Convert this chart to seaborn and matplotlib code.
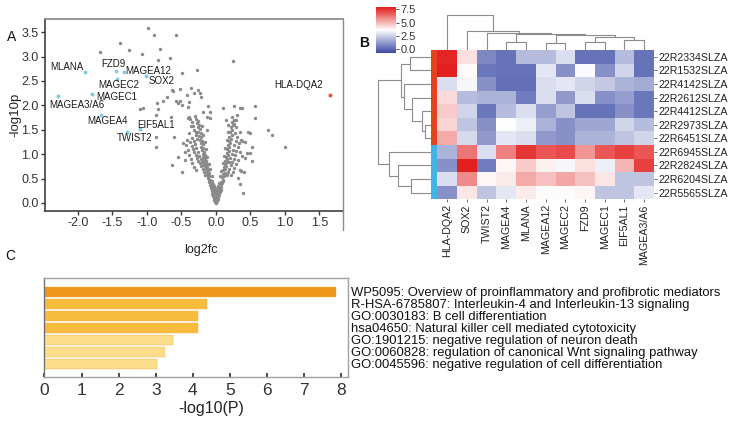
import numpy as np
import pandas as pd
import matplotlib
matplotlib.use("Agg")
import matplotlib.pyplot as plt
import seaborn as sns
from matplotlib.colors import LinearSegmentedColormap, ListedColormap
from matplotlib.lines import Line2D
from matplotlib.ticker import FormatStrFormatter, MultipleLocator

W, H = 729, 421

# ---------------- A: volcano data (log2fc, -log10p)
other_genes = [
    (-0.98, 3.58), (-0.89, 3.44), (-0.58, 3.44), (-1.39, 3.27), (-0.81, 3.15), (-1.26, 3.13),
    (-1.07, 3.05), (-1.68, 3.09), (-0.66, 2.98), (-0.83, 2.94), (0.25, 2.90), (-0.49, 2.67),
    (-0.27, 2.73), (-0.64, 2.32), (-0.52, 2.34), (-0.71, 2.18), (-0.76, 2.08), (-0.85, 2.04),
    (-0.42, 2.21), (-0.32, 2.26), (-0.25, 2.32), (-0.23, 2.25), (-0.22, 2.17), (-0.58, 2.10),
    (-0.55, 2.04), (-0.49, 2.01), (-0.40, 1.96), (-0.18, 1.87), (-0.11, 1.99), (-0.08, 1.87),
    (0.10, 1.94), (0.26, 1.99), (0.57, 1.99), (0.38, 1.94), (-0.83, 1.92), (-1.10, 1.92),
    (-0.65, 1.76), (-0.40, 1.74), (-0.13, 1.77), (-0.08, 1.75), (0.35, 1.94), (0.57, 1.75),
    (0.76, 1.50), (0.81, 1.39), (1.01, 1.14), (0.49, 1.44), (0.35, 1.05), (0.35, 0.68),
    (0.35, 0.38), (-0.86, 1.80), (-0.86, 1.36), (-0.86, 1.14), (-0.61, 1.36), (-0.64, 0.77),
    (-0.49, 0.64), (-0.55, 0.94), (-0.38, 1.76), (-0.36, 1.58), (-0.28, 1.46), (-1.06, 1.94),
    (-0.36, 2.35), (-0.39, 2.06), (-0.62, 2.30), (-0.52, 2.10),
    # dense core
    (0.00, 0.00), (0.01, 0.02), (-0.01, 0.03), (0.00, 0.05), (0.02, 0.05), (-0.02, 0.06),
    (0.01, 0.08), (-0.01, 0.09), (0.03, 0.09), (-0.03, 0.10), (0.02, 0.12), (-0.02, 0.13),
    (0.04, 0.13), (-0.04, 0.14), (0.00, 0.11), (0.03, 0.16), (-0.03, 0.17), (0.05, 0.17),
    (-0.05, 0.19), (0.01, 0.15), (-0.01, 0.18), (0.04, 0.20), (-0.04, 0.22), (0.06, 0.22),
    (-0.06, 0.24), (0.02, 0.21), (-0.02, 0.25), (0.05, 0.26), (-0.05, 0.28), (0.07, 0.27),
    (-0.07, 0.30), (0.03, 0.27), (-0.03, 0.31), (0.06, 0.31), (-0.06, 0.34), (0.08, 0.33),
    (-0.08, 0.36), (0.04, 0.34), (-0.04, 0.38), (0.07, 0.38), (-0.07, 0.41), (0.09, 0.40),
    (-0.09, 0.43), (0.05, 0.41), (-0.05, 0.45), (0.10, 0.45), (-0.10, 0.48), (0.08, 0.44),
    (-0.08, 0.47), (0.01, 0.24), (-0.01, 0.28), (0.00, 0.20), (0.02, 0.30), (-0.02, 0.35),
    # left arm
    (-0.11, 0.52), (-0.09, 0.55), (-0.12, 0.58), (-0.10, 0.62), (-0.13, 0.63), (-0.11, 0.68),
    (-0.14, 0.70), (-0.12, 0.74), (-0.15, 0.76), (-0.13, 0.80), (-0.16, 0.82), (-0.14, 0.86),
    (-0.17, 0.88), (-0.15, 0.92), (-0.18, 0.95), (-0.16, 0.99), (-0.19, 1.01), (-0.17, 1.05),
    (-0.20, 1.08), (-0.18, 1.12), (-0.21, 1.15), (-0.19, 1.20), (-0.22, 1.22), (-0.20, 1.27),
    (-0.23, 1.30), (-0.21, 1.35), (-0.24, 1.38), (-0.22, 1.43), (-0.25, 1.46), (-0.23, 1.52),
    (-0.26, 1.55), (-0.24, 1.60), (-0.27, 1.63), (-0.25, 1.68), (-0.28, 1.72), (-0.30, 1.78),
    (-0.15, 0.58), (-0.17, 0.64), (-0.19, 0.69), (-0.21, 0.75), (-0.23, 0.81), (-0.25, 0.86),
    (-0.27, 0.92), (-0.29, 0.98), (-0.31, 1.04), (-0.33, 1.10), (-0.35, 1.17), (-0.37, 1.24),
    (-0.30, 1.20), (-0.28, 1.12), (-0.26, 1.04), (-0.24, 0.97), (-0.22, 0.90), (-0.20, 0.84),
    (-0.18, 0.77), (-0.32, 1.28), (-0.34, 1.34), (-0.29, 1.40), (-0.31, 1.49), (-0.33, 1.58),
    (-0.35, 1.66), (-0.37, 1.72), (-0.27, 1.31), (-0.41, 1.30), (-0.43, 1.18), (-0.40, 1.08),
    (-0.38, 0.98), (-0.36, 0.90), (-0.34, 0.82), (-0.31, 0.74), (-0.28, 0.68), (-0.45, 1.05),
    (-0.44, 0.88), (-0.47, 1.22), (-0.39, 1.44), (-0.14, 1.10), (-0.12, 0.95), (-0.10, 0.80),
    (-0.16, 1.25), (-0.18, 1.40), (-0.20, 1.58), (-0.13, 1.50), (-0.08, 0.70), (-0.06, 0.55),
    # right arm
    (0.11, 0.48), (0.09, 0.53), (0.12, 0.56), (0.10, 0.60), (0.13, 0.62), (0.11, 0.67),
    (0.14, 0.69), (0.12, 0.73), (0.15, 0.76), (0.13, 0.80), (0.16, 0.83), (0.14, 0.87),
    (0.17, 0.90), (0.15, 0.95), (0.18, 0.98), (0.16, 1.03), (0.19, 1.06), (0.17, 1.11),
    (0.20, 1.14), (0.18, 1.19), (0.21, 1.22), (0.19, 1.28), (0.22, 1.31), (0.20, 1.36),
    (0.23, 1.40), (0.21, 1.46), (0.24, 1.50), (0.22, 1.56), (0.25, 1.60), (0.23, 1.66),
    (0.26, 1.70), (0.24, 1.76), (0.16, 0.57), (0.18, 0.63), (0.20, 0.70), (0.22, 0.77),
    (0.24, 0.84), (0.26, 0.91), (0.28, 0.98), (0.30, 1.06), (0.32, 1.14), (0.34, 1.22),
    (0.36, 1.30), (0.27, 1.18), (0.25, 1.08), (0.23, 1.00), (0.21, 0.92), (0.19, 0.85),
    (0.29, 1.27), (0.31, 1.36), (0.28, 1.44), (0.30, 1.55), (0.27, 1.62), (0.29, 1.70),
    (0.31, 1.80), (0.33, 0.88), (0.30, 0.80), (0.27, 0.72), (0.25, 0.64), (0.22, 0.58),
    (0.38, 0.96), (0.41, 0.64), (0.42, 0.92), (0.45, 1.02), (0.50, 1.03), (0.53, 0.87),
    (0.42, 1.24), (0.38, 1.28), (0.53, 1.14), (0.47, 1.46), (0.35, 1.46), (0.39, 0.21),
    (0.33, 0.52), (0.36, 0.66), (0.14, 1.12), (0.12, 0.96), (0.10, 0.82), (0.16, 1.30),
    (0.18, 1.45), (0.08, 0.66), (0.06, 0.55), (0.18, 1.60), (0.15, 1.70),
]

marked_genes = ["MLANA", "FZD9", "MAGEA12", "SOX2", "MAGEC2", "MAGEC1",
                "MAGEA3/A6", "MAGEA4", "EIF5AL1", "TWIST2", "HLA-DQA2"]
marked_fc = [-1.89, -1.45, -1.33, -1.01, -1.43, -1.80, -2.28, -1.66, -1.10, -1.29, 1.65]
marked_logp = [2.68, 2.70, 2.69, 2.60, 2.55, 2.24, 2.19, 1.80, 1.52, 1.46, 2.22]

# label placement (offset from the point, in data units)
label_offset = {
    "MLANA": (-0.27, 0.11), "FZD9": (-0.04, 0.15), "MAGEA12": (0.35, 0.02),
    "SOX2": (0.22, -0.10), "MAGEC2": (0.02, -0.13), "MAGEC1": (0.37, -0.07),
    "MAGEA3/A6": (0.27, -0.19), "MAGEA4": (0.09, -0.11), "EIF5AL1": (0.24, 0.08),
    "TWIST2": (0.12, -0.12), "HLA-DQA2": (-0.45, 0.20),
}

# ---------------- B: heatmap
hm_genes = ["HLA-DQA2", "SOX2", "TWIST2", "MAGEA4", "MLANA", "MAGEA12",
            "MAGEC2", "FZD9", "MAGEC1", "EIF5AL1", "MAGEA3/A6"]
hm_samples = ["22R2334SLZA", "22R1532SLZA", "22R4142SLZA", "22R2612SLZA",
              "22R4412SLZA", "22R2973SLZA", "22R6451SLZA", "22R6945SLZA",
              "22R2824SLZA", "22R6204SLZA", "22R5565SLZA"]
hm_values = [
    [7.7, 4.2, 0.8, 0.3, 2.0, 2.0, 2.8, 0.3, 0.3, 2.0, 0.3],
    [7.8, 3.7, 0.4, 0.3, 0.3, 3.0, 1.0, 3.5, 1.0, 2.6, 0.3],
    [2.8, 3.4, 1.0, 0.2, 0.2, 2.8, 3.0, 2.6, 2.3, 1.8, 1.6],
    [4.3, 2.0, 1.8, 1.8, 0.5, 2.8, 1.2, 2.8, 1.0, 1.3, 0.4],
    [4.6, 2.6, 0.4, 2.0, 2.8, 1.3, 2.2, 0.3, 0.3, 1.0, 0.4],
    [4.4, 2.2, 1.0, 3.6, 3.2, 1.8, 1.0, 1.5, 1.5, 2.6, 2.0],
    [5.2, 2.7, 1.2, 3.0, 2.8, 1.2, 1.0, 1.8, 1.8, 2.2, 2.6],
    [1.8, 6.2, 2.8, 6.0, 7.4, 6.8, 7.0, 5.6, 6.8, 7.2, 6.8],
    [1.0, 7.8, 0.5, 3.8, 4.6, 3.9, 3.4, 4.2, 3.2, 5.0, 7.2],
    [2.8, 5.8, 3.8, 4.0, 5.2, 4.8, 5.3, 4.8, 4.1, 2.2, 2.2],
    [1.0, 4.1, 2.2, 3.0, 4.0, 3.7, 3.7, 3.8, 2.2, 2.2, 3.0],
]
sample_group = [0, 0, 0, 0, 0, 0, 0, 1, 1, 1, 1]

# dendrogram merges: (left node, right node, height); new nodes numbered after leaves
row_merges = [(5, 6, 6), (4, 11, 9), (3, 12, 19), (2, 13, 27), (0, 1, 21),
              (15, 14, 30), (9, 10, 20), (8, 17, 33), (7, 18, 42), (16, 19, 53)]
col_merges = [(3, 4, 8), (5, 6, 7), (7, 8, 8.3), (9, 10, 10), (13, 14, 13),
              (12, 15, 15), (11, 16, 16), (2, 17, 17), (1, 18, 19), (0, 19, 35)]

# ---------------- C: enrichment bars
terms = ["WP5095: Overview of proinflammatory and profibrotic mediators",
         "R-HSA-6785807: Interleukin-4 and Interleukin-13 signaling",
         "GO:0030183: B cell differentiation",
         "hsa04650: Natural killer cell mediated cytotoxicity",
         "GO:1901215: negative regulation of neuron death",
         "GO:0060828: regulation of canonical Wnt signaling pathway",
         "GO:0045596: negative regulation of cell differentiation"]
term_logp = [7.85, 4.37, 4.14, 4.15, 3.46, 3.26, 3.04]
term_tier = [0, 1, 1, 1, 2, 2, 2]
tier_colors = ["#F0961C", "#F8BC3C", "#FCDD8A"]

sns.set_theme(style="white")
plt.rcParams["font.family"] = ["Liberation Sans", "DejaVu Sans"]

fig = plt.figure(figsize=(W / 100, H / 100), dpi=100)


def box(l, t, r, b):
    return [l / W, 1 - b / H, (r - l) / W, (b - t) / H]


# ---------------- panel A
ax = fig.add_axes(box(45, 19, 343, 211))
bg = pd.DataFrame(other_genes, columns=["log2fc", "logp"])
sns.scatterplot(data=bg, x="log2fc", y="logp", color="#8a8a8a", s=6,
                linewidth=0, ax=ax)
mk = pd.DataFrame({"gene": marked_genes, "log2fc": marked_fc, "logp": marked_logp})
down = mk[mk.log2fc < 0]
up = mk[mk.log2fc > 0]
sns.scatterplot(data=down, x="log2fc", y="logp", color="#7ECBE6", s=8, linewidth=0, ax=ax)
sns.scatterplot(data=up, x="log2fc", y="logp", color="#E4532B", s=8, linewidth=0, ax=ax)
for g, x, y in zip(marked_genes, marked_fc, marked_logp):
    dx, dy = label_offset[g]
    ax.text(x + dx, y + dy, g, ha="center", va="center", fontsize=7, color="#1a1a1a")

ax.set_xlim(-2.474, 1.845)
ax.set_ylim(-0.164, 3.77)
ax.set_xticks(np.arange(-2.0, 1.6, 0.5))
ax.set_yticks(np.arange(0, 3.6, 0.5))
ax.xaxis.set_major_formatter(FormatStrFormatter("%.1f"))
ax.yaxis.set_major_formatter(FormatStrFormatter("%.1f"))
ax.tick_params(bottom=True, left=True, direction="out", length=3, width=1,
               colors="#333333", labelsize=9, pad=1.5)
for s in ["left", "bottom"]:
    ax.spines[s].set_color("#404040")
    ax.spines[s].set_linewidth(1.2)
ax.spines["top"].set_color("#8a8a8a")
ax.spines["right"].set_visible(False)
ax.set_xlabel("log2fc", fontsize=9, color="#222222")
ax.set_ylabel("-log10p", fontsize=9.5, color="#222222")
ax.xaxis.set_label_coords(0.523, -0.17)
ax.yaxis.set_label_coords(-0.08, 0.5)
fig.add_artist(Line2D([343 / W, 343 / W], [1 - 19 / H, 1 - 230 / H],
                      transform=fig.transFigure, color="#8a8a8a", lw=1))

# ---------------- panel B
hm = pd.DataFrame(hm_values, index=hm_samples, columns=hm_genes)
cmap = LinearSegmentedColormap.from_list("bwr_hm", ["#3A4AA4", "#FFFFFF", "#E31C1C"])
ax_hm = fig.add_axes(box(437.3, 50, 654, 199.3))
cax = fig.add_axes(box(375.7, 7, 395.7, 53))
sns.heatmap(hm, cmap=cmap, vmin=-0.7, vmax=7.9, ax=ax_hm, cbar_ax=cax,
            cbar_kws={"ticks": [0, 2.5, 5, 7.5]})
ax_hm.yaxis.tick_right()
ax_hm.set_yticks(np.arange(len(hm_samples)) + 0.5)
ax_hm.set_yticklabels(hm_samples, rotation=0, fontsize=7.7, color="#222222")
ax_hm.set_xticklabels(hm_genes, rotation=90, fontsize=7.7, color="#222222")
ax_hm.tick_params(axis="both", length=2, width=0.6, pad=1.5, colors="#555555",
                  bottom=True, right=True, left=False)
for lab in ax_hm.get_xticklabels() + ax_hm.get_yticklabels():
    lab.set_color("#222222")
ax_hm.set_xlabel("")
ax_hm.set_ylabel("")
cax.yaxis.set_major_formatter(FormatStrFormatter("%.1f"))
cax.tick_params(labelsize=8, length=2, width=0.6, pad=1.5, colors="#333333", right=True)

ax_rc = fig.add_axes(box(430.7, 50, 437.3, 199.3))
sns.heatmap(pd.DataFrame({"group": sample_group}, index=hm_samples),
            cmap=ListedColormap(["#E5431D", "#42B4E4"]), cbar=False,
            xticklabels=False, yticklabels=False, ax=ax_rc)
ax_rc.set_xlabel("")
ax_rc.set_ylabel("")


def dendro(ax, merges, n, top):
    pos = [i + 0.5 for i in range(n)]
    hgt = [0.0] * n
    for a, b, h in merges:
        p = [pos[a], pos[a], pos[b], pos[b]]
        q = [hgt[a], h, h, hgt[b]]
        if top:
            ax.plot(p, q, color="#8c8c8c", lw=0.8)
        else:
            ax.plot(q, p, color="#8c8c8c", lw=0.8)
        pos.append((pos[a] + pos[b]) / 2)
        hgt.append(h)
    ax.axis("off")


ax_cd = fig.add_axes(box(437.3, 13, 654, 50))
dendro(ax_cd, col_merges, len(hm_genes), True)
ax_cd.set_xlim(0, len(hm_genes))
ax_cd.set_ylim(0, 37)

ax_rd = fig.add_axes(box(375, 50, 430.7, 199.3))
dendro(ax_rd, row_merges, len(hm_samples), False)
ax_rd.set_ylim(len(hm_samples), 0)
ax_rd.set_xlim(55.7, 0)

# ---------------- panel C
ax_c = fig.add_axes(box(44.4, 277.7, 348, 377.3))
bars = pd.DataFrame({"term": terms, "logp": term_logp})
sns.barplot(data=bars, x="logp", y="term", hue="term",
            palette=[tier_colors[t] for t in term_tier], legend=False,
            saturation=1, width=0.85, edgecolor="#e8b050", linewidth=0.3, ax=ax_c)
ax_c.set_xlim(0, 8.18)
ax_c.set_ylim(7.12, -1.16)
ax_c.set_xticks(range(0, 9))
ax_c.xaxis.set_minor_locator(MultipleLocator(2))
ax_c.grid(False)
ax_c.grid(which="minor", axis="x", color="#d6d6d6", lw=0.8)
ax_c.set_axisbelow(True)
ax_c.yaxis.tick_right()
ax_c.tick_params(axis="y", length=0, pad=2, labelsize=9.4, colors="#111111", right=False)
ax_c.tick_params(axis="x", which="major", bottom=True, direction="in", length=3,
                 labelsize=12.5, colors="#333333", pad=4)
ax_c.tick_params(axis="x", which="minor", length=0)
for s in ax_c.spines.values():
    s.set_color("#a0a0a0")
    s.set_linewidth(1)
ax_c.spines["left"].set_color("#707070")
ax_c.set_ylabel("")
ax_c.set_xlabel("-log10(P)", fontsize=11.5, color="#222222")
ax_c.xaxis.set_label_coords(0.549, -0.235)

# panel letters
fig.text(7 / W, 1 - 37 / H, "A", fontsize=10, va="center", color="#111111")
fig.text(359 / W, 1 - 43 / H, "B", fontsize=10, fontweight="bold", va="center", color="#111111")
fig.text(5 / W, 1 - 256 / H, "C", fontsize=10, va="center", color="#111111")

fig.savefig("out.png", dpi=100)
